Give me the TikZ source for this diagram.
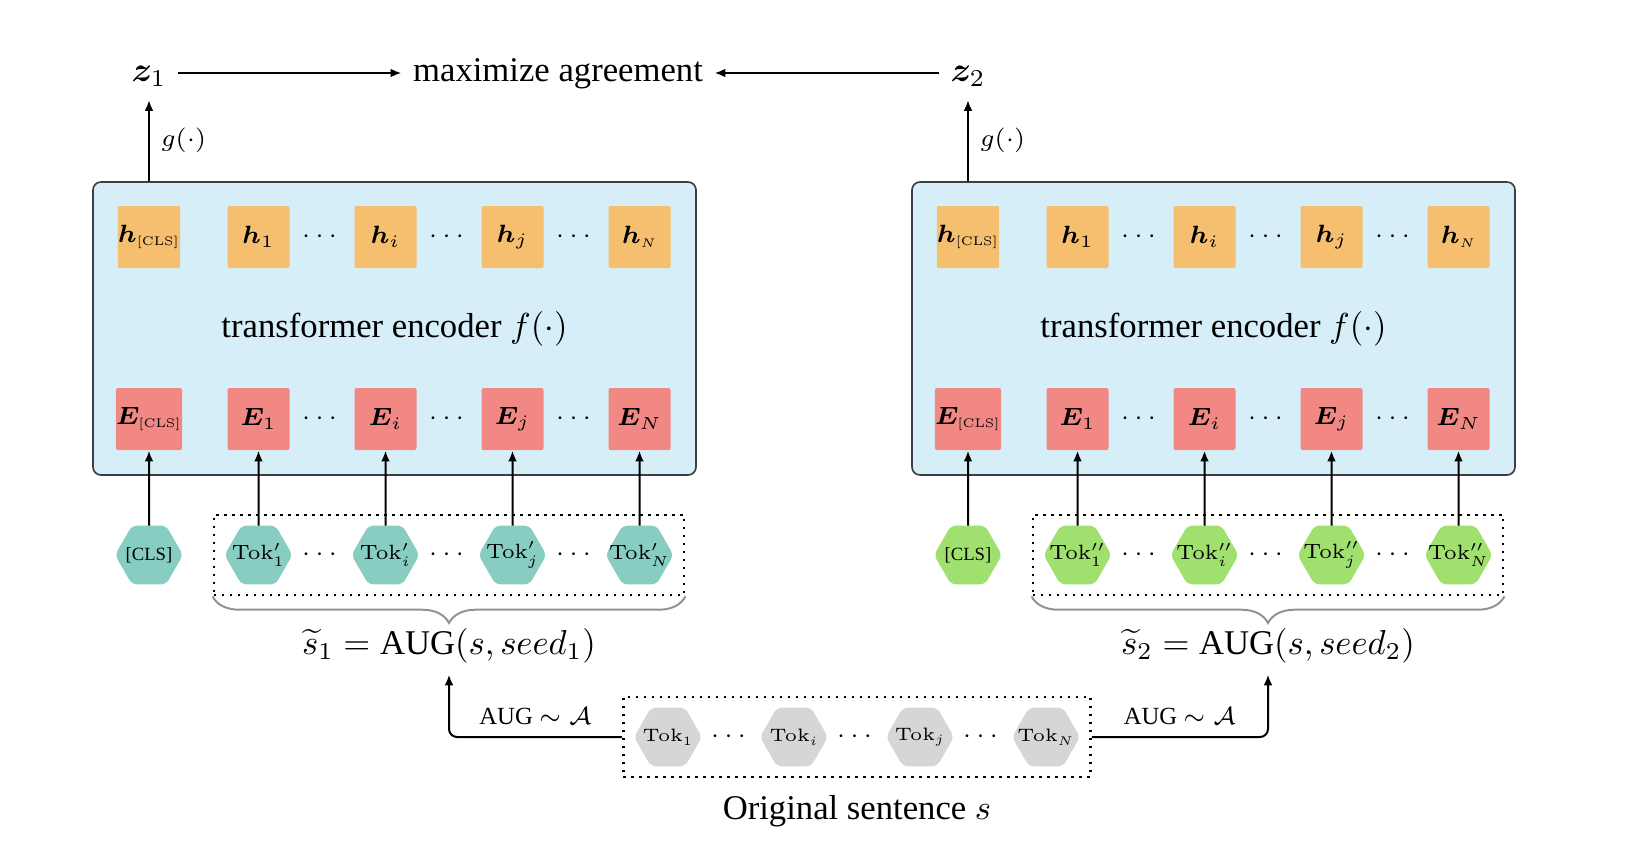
\documentclass[tikz,border=0pt]{standalone}
\usepackage{fix-cm}
\usepackage{amsmath,amssymb}
\usepackage{bm}
\usepackage[no-math]{fontspec}
\setmainfont{Liberation Serif}
\usetikzlibrary{shapes.geometric,arrows.meta,positioning,fit,decorations.pathreplacing}

\definecolor{encblue}{HTML}{D6EEF8}
\definecolor{encframe}{HTML}{3A3F44}
\definecolor{hyellow}{HTML}{F5BF6F}
\definecolor{ered}{HTML}{F28884}
\definecolor{tokteal}{HTML}{88CDC2}
\definecolor{tokgreen}{HTML}{9FE06E}
\definecolor{tokgray}{HTML}{D6D6D6}

\begin{document}
\begin{tikzpicture}[
    x=0.3pt, y=-0.3pt,
    font=\fontsize{10.4}{12.5}\selectfont,
    encoder/.style={rectangle, draw=encframe, fill=encblue, line width=0.5pt, rounded corners=2.4pt, minimum width=180.9pt, minimum height=87.9pt},
    hvec/.style={rectangle, fill=hyellow, minimum size=18.6pt, inner sep=0pt, rounded corners=0.6pt, font=\fontsize{7.5}{9}\selectfont},
    evec/.style={hvec, fill=ered},
    tok/.style={regular polygon, regular polygon sides=6, minimum size=20.4pt, inner sep=-3pt, outer sep=0pt, rounded corners=1.6pt, font=\fontsize{6.2}{7.5}\selectfont},
    tokorig/.style={tok, fill=tokgray, font=\fontsize{5.4}{6.5}\selectfont},
    dotsnode/.style={inner sep=0pt, font=\fontsize{7.5}{9}\selectfont},
    group/.style={draw, line width=0.75pt, dash pattern=on 0.75pt off 1.65pt, inner sep=3.2pt},
    arrow/.style={-{Latex[length=3.2pt,width=2.6pt]}, line width=0.6pt},
    small/.style={font=\fontsize{7.4}{9}\selectfont},
    brace/.style={decorate, decoration={brace, mirror, amplitude=8pt}, draw=gray!85, line width=0.6pt},
    headline/.style={text height=7pt, text depth=2.2pt}
]
\useasboundingbox (0,0) rectangle (1630,850);

% Two augmented views
\foreach \b/\dx/\col/\pr in {1/0/tokteal/\prime, 2/819/tokgreen/\prime\prime}{
    % encoder block
    \node[encoder] (enc\b) at (394.5+\dx,328.5) {transformer encoder $f(\cdot)$};
    % [CLS] column
    \node[hvec] (hcls\b) at (149+\dx,237) {$\bm{h}_{\scriptscriptstyle[\mathrm{CLS}]}$};
    \node[evec] (ecls\b) at (149+\dx,419) {$\bm{E}_{\scriptscriptstyle[\mathrm{CLS}]}$};
    \node[tok, fill=\col, font=\fontsize{5.6}{6.5}\selectfont] (tcls\b) at (149+\dx,555) {[CLS]};
    \draw[arrow] (tcls\b) -- (ecls\b);
    % token columns
    \foreach \k/\s/\hs in {0/1/1, 1/i/i, 2/j/j, 3/N/{\scriptscriptstyle N}}{
        \node[hvec] (h\b-\s) at (258.5+127*\k+\dx,237) {$\bm{h}_{\hs}$};
        \node[evec] (e\b-\s) at (258.5+127*\k+\dx,419) {$\bm{E}_{\s}$};
        \node[tok, fill=\col] (t\b-\s) at (258.5+127*\k+\dx,555) {$\mathrm{Tok}^{\pr}_{\s}$};
        \draw[arrow] (t\b-\s) -- (e\b-\s);
    }
    % dots between columns
    \foreach \k/\m in {0/a, 1/b, 2/c}{
        \node[dotsnode] (hd\b\m) at (322+127*\k+\dx,237) {$\cdots$};
        \node[dotsnode] (ed\b\m) at (322+127*\k+\dx,419) {$\cdots$};
        \node[dotsnode] (td\b\m) at (322+127*\k+\dx,555) {$\cdots$};
    }
    % augmented sentence
    \node[group, fit=(t\b-1)(t\b-N)] (grp\b) {};
    \draw[brace] (grp\b.south west) -- (grp\b.south east);
    \node[below=6pt of grp\b.south] (aug\b) {$\widetilde{s}_{\b}=\text{AUG}(s,seed_{\b})$};
}

% Original sentence
\foreach \k/\s in {0/1, 1/i, 2/j, 3/N}{
    \node[tokorig] (o\s) at (668+126*\k,737) {$\mathrm{Tok}_{\s}$};
}
\foreach \k/\m in {0/a, 1/b, 2/c}{
    \node[dotsnode] (od\m) at (731+126*\k,737) {$\cdots$};
}
\node[group, fit=(o1)(oN)] (grp0) {};
\node[below=1.6pt of grp0] (orig) {Original sentence $s$};

\draw[arrow, rounded corners=2.4pt] (grp0.west) -| (aug1) node[pos=0.25, above, small] {AUG $\sim\mathcal{A}$};
\draw[arrow, rounded corners=2.4pt] (grp0.east) -| (aug2) node[pos=0.25, above, small] {AUG $\sim\mathcal{A}$};

% Projection heads and objective
\node[headline] (z1) at (149,73) {$\bm{z}_1$};
\node[headline] (z2) at (968,73) {$\bm{z}_2$};
\node[headline] (agree) at (558,73) {maximize agreement};

\draw[arrow] (hcls1 |- enc1.north) -- (z1) node[midway, right, small] {$g(\cdot)$};
\draw[arrow] (hcls2 |- enc2.north) -- (z2) node[midway, right, small] {$g(\cdot)$};
\draw[arrow] (z1) -- (agree);
\draw[arrow] (z2) -- (agree);

\end{tikzpicture}
\end{document}
